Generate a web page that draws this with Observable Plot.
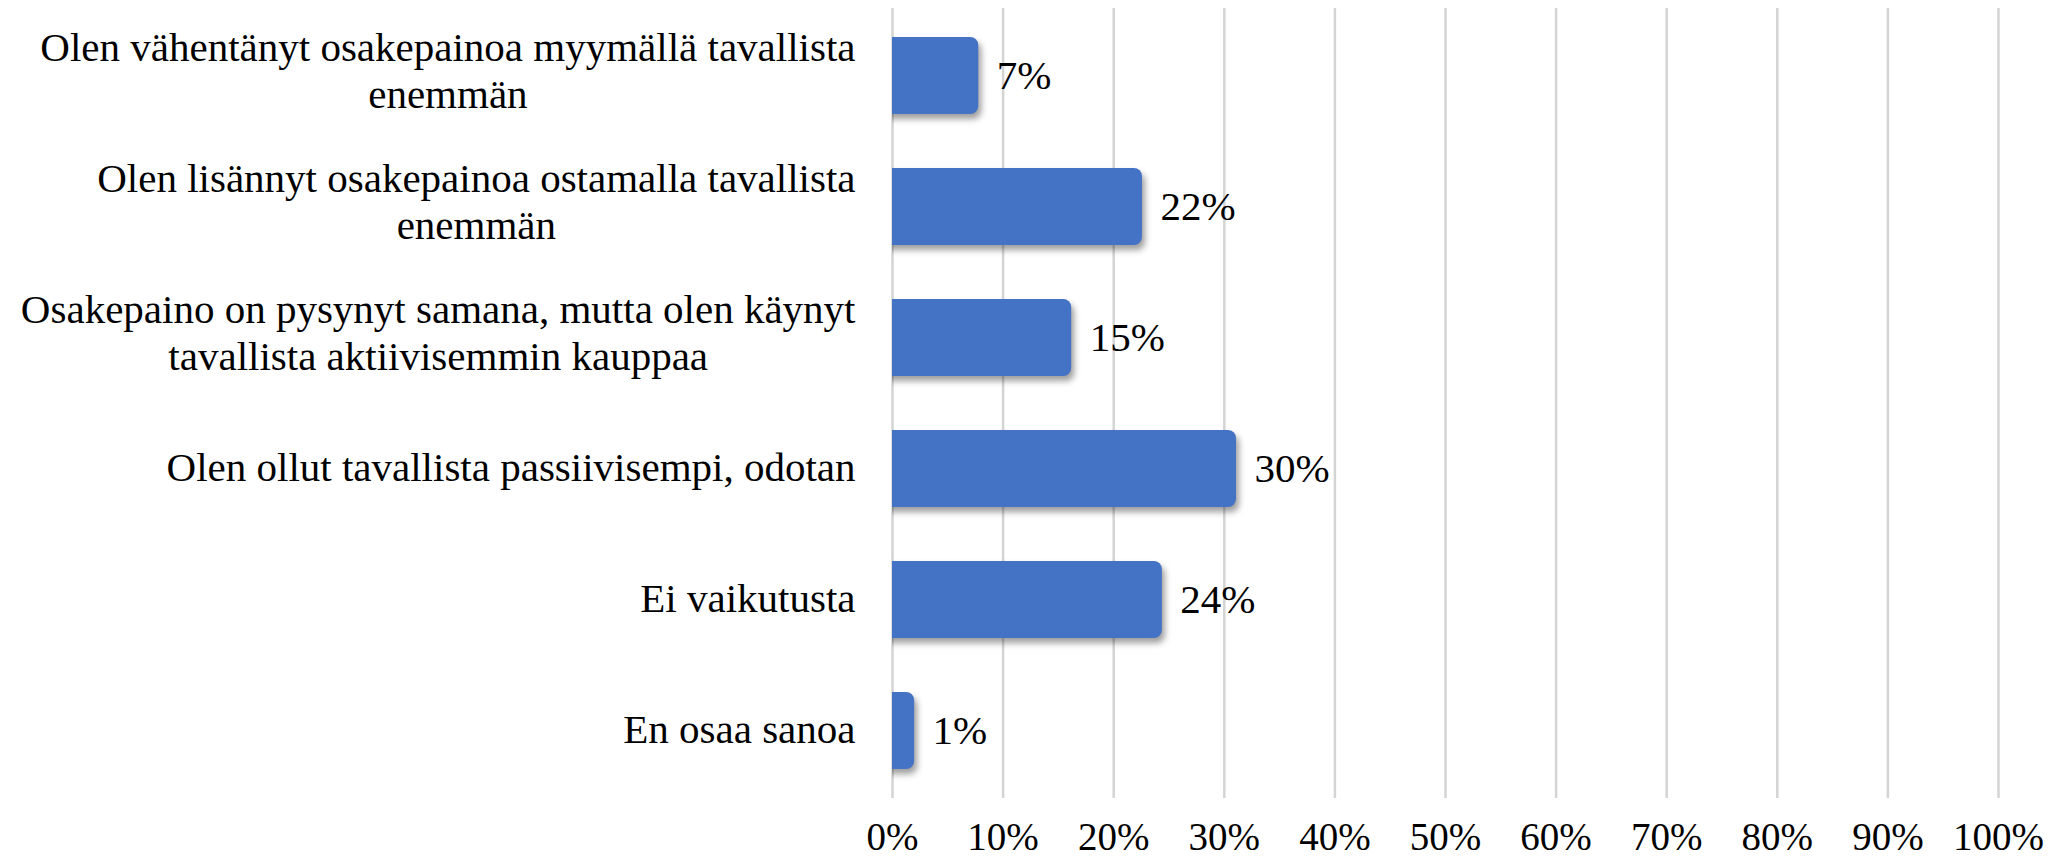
<!DOCTYPE html>
<html><head><meta charset="utf-8">
<script src="https://cdn.jsdelivr.net/npm/d3@7"></script>
<script src="https://cdn.jsdelivr.net/npm/@observablehq/plot@0.6"></script>
<style>
html,body{margin:0;padding:0;background:#fff;}
g[aria-label="bar"]{filter: drop-shadow(3px 5px 3px rgba(0,0,0,0.38));}
</style></head><body><div id="chart"></div>
<script>
const categories = [
  "Olen vähentänyt osakepainoa myymällä tavallista\nenemmän",
  "Olen lisännyt osakepainoa ostamalla tavallista\nenemmän",
  "Osakepaino on pysynyt samana, mutta olen käynyt\ntavallista aktiivisemmin kauppaa",
  "Olen ollut tavallista passiivisempi, odotan",
  "Ei vaikutusta",
  "En osaa sanoa"
];
const values = [7.8, 22.6, 16.2, 31.1, 24.4, 2.0];
const valueLabels = ["7%", "22%", "15%", "30%", "24%", "1%"];
const xTicks = [0, 10, 20, 30, 40, 50, 60, 70, 80, 90, 100];
const xTickLabels = ["0%", "10%", "20%", "30%", "40%", "50%", "60%", "70%", "80%", "90%", "100%"];

const FONT = "Liberation Serif";
const FS = 41;
const TICK_FS = 39;
const GAP = 37;
const LH = 1.15;

const data = categories.map((c, i) => ({category: c, value: values[i], label: valueLabels[i]}));

const ctx = document.createElement("canvas").getContext("2d");
ctx.font = `${FS}px "${FONT}"`;
const blockWidth = c => Math.max(...c.split("\n").map(l => ctx.measureText(l).width));
const nLines = c => c.split("\n").length;

const labelMarks = categories.map(c => Plot.text([c], {
  y: d => d, text: d => d, frameAnchor: "left", textAnchor: "middle",
  dx: -(GAP + blockWidth(c) / 2), dy: nLines(c) > 1 ? -7 : -3,
  lineHeight: LH, lineWidth: Infinity,
  fontSize: FS, fontFamily: FONT, fill: "#000"
}));

const chart = Plot.plot({
  width: 2061, height: 861,
  marginLeft: 892, marginRight: 63, marginTop: 8, marginBottom: 63,
  style: {fontFamily: FONT, fontSize: FS + "px", color: "#000", background: "#fff"},
  x: {domain: [0, 100], label: null},
  y: {domain: categories, paddingInner: 0.41, paddingOuter: 0.205, label: null, axis: null},
  marks: [
    Plot.gridX(xTicks, {stroke: "#d4d4d4", strokeWidth: 2.5, strokeOpacity: 1}),
    Plot.axisX(xTicks, {tickSize: 0, tickPadding: 24, tickFormat: d => xTickLabels[xTicks.indexOf(d)],
      fontSize: TICK_FS, fontFamily: FONT, fill: "#000", label: null}),
    Plot.barX(data, {x: "value", y: "category", fill: "#4472C4", rx: 8, insetLeft: -14, clip: true}),
    Plot.text(data, {x: "value", y: "category", text: "label", textAnchor: "start", dx: 18,
      fontSize: FS, fontFamily: FONT, fill: "#000"}),
    ...labelMarks
  ]
});
document.getElementById("chart").appendChild(chart);
</script>
</body></html>
